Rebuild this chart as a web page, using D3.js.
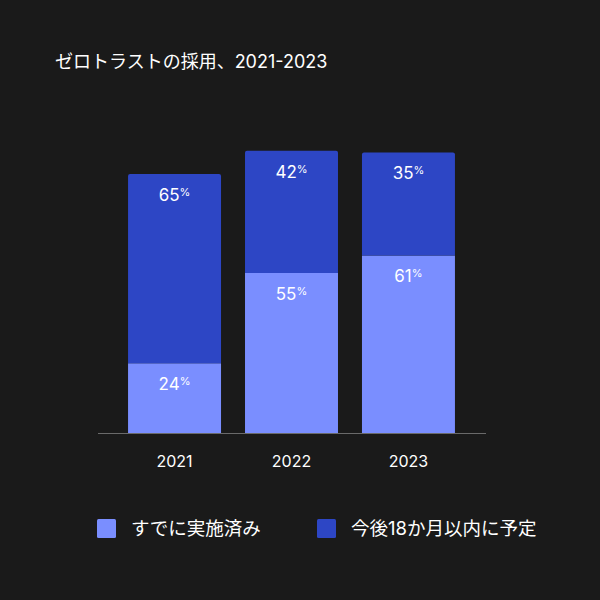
<!DOCTYPE html>
<html>
<head>
<meta charset="utf-8">
<script src="https://cdn.jsdelivr.net/npm/d3@7"></script>
<style>
  html, body { margin: 0; padding: 0; background: #1a1a1a; }
  svg { display: block; font-family: Inter, "Noto Sans CJK JP", sans-serif; }
</style>
</head>
<body>
<svg id="chart" width="600" height="600"></svg>
<script>
// chart data (2023 planned bar is drawn a bit taller than its 35% label)
const years = ['2021', '2022', '2023'];
const implemented = [24, 55, 61];
const planned = [65, 42, 35.4];
const seriesNames = ['すでに実施済み', '今後18か月以内に予定'];
const seriesColors = ['#7a8eff', '#2d46c5'];
const title = 'ゼロトラストの採用、2021-2023';

const svg = d3.select('#chart');
svg.append('rect').attr('width', 600).attr('height', 600).attr('fill', '#1a1a1a');

// title
svg.append('text')
  .attr('x', 55).attr('y', 68)
  .attr('fill', '#fff')
  .attr('font-size', 18)
  .text(title);

const x = d3.scaleBand()
  .domain(years)
  .range([116, 467])
  .paddingInner(0.205)
  .paddingOuter(0.103);

const y = d3.scaleLinear()
  .domain([0, 100])
  .range([433, 142]);

// stack the two series
const rows = years.map((yr, i) => ({ year: yr, s0: implemented[i], s1: planned[i] }));
const stacked = d3.stack().keys(['s0', 's1'])(rows);

const layers = svg.append('g').selectAll('g')
  .data(stacked)
  .enter().append('g')
  .attr('fill', (d, i) => seriesColors[i]);

layers.selectAll('path')
  .data(d => d)
  .enter().append('path')
  .attr('d', function(d) {
    const top = this.parentNode.__data__.index === 1;
    const x0 = x(d.data.year), w = x.bandwidth();
    const y0 = y(d[0]), y1 = y(d[1]);
    const r = top ? 2 : 0;
    return `M${x0},${y0} L${x0},${y1 + r} Q${x0},${y1} ${x0 + r},${y1} L${x0 + w - r},${y1} Q${x0 + w},${y1} ${x0 + w},${y1 + r} L${x0 + w},${y0} Z`;
  });

// value labels
layers.each(function(layer) {
  d3.select(this).selectAll('text')
    .data(layer)
    .enter().append('text')
    .attr('x', d => x(d.data.year) + x.bandwidth() / 2)
    .attr('y', d => y(d[1]) + 27)
    .attr('text-anchor', 'middle')
    .attr('fill', '#fff')
    .attr('font-size', 17)
    .call(t => {
      t.append('tspan').text(d => Math.round(d[1] - d[0]));
      t.append('tspan').attr('font-size', 11).attr('dy', -5).text('%');
    });
});

// baseline axis
svg.append('line')
  .attr('x1', 98).attr('x2', 486)
  .attr('y1', y(0) + 0.5).attr('y2', y(0) + 0.5)
  .attr('stroke', '#6a6a6a').attr('stroke-width', 1);

const xAxis = svg.append('g')
  .attr('transform', `translate(0,${y(0)})`)
  .call(d3.axisBottom(x).tickSize(0).tickPadding(23));
xAxis.select('.domain').remove();
xAxis.selectAll('text')
  .attr('fill', '#fff')
  .attr('font-size', 16)
  .attr('font-family', 'Inter, "Noto Sans CJK JP", sans-serif');

// legend
const legendX = [97, 317];
const legend = svg.append('g').selectAll('g')
  .data(seriesNames)
  .enter().append('g')
  .attr('transform', (d, i) => `translate(${legendX[i]},519)`);
legend.append('rect')
  .attr('width', 19).attr('height', 19).attr('rx', 1.5)
  .attr('fill', (d, i) => seriesColors[i]);
legend.append('text')
  .attr('x', 34).attr('y', 16)
  .attr('fill', '#fff')
  .attr('font-size', 18.5)
  .text(d => d);
</script>
</body>
</html>
